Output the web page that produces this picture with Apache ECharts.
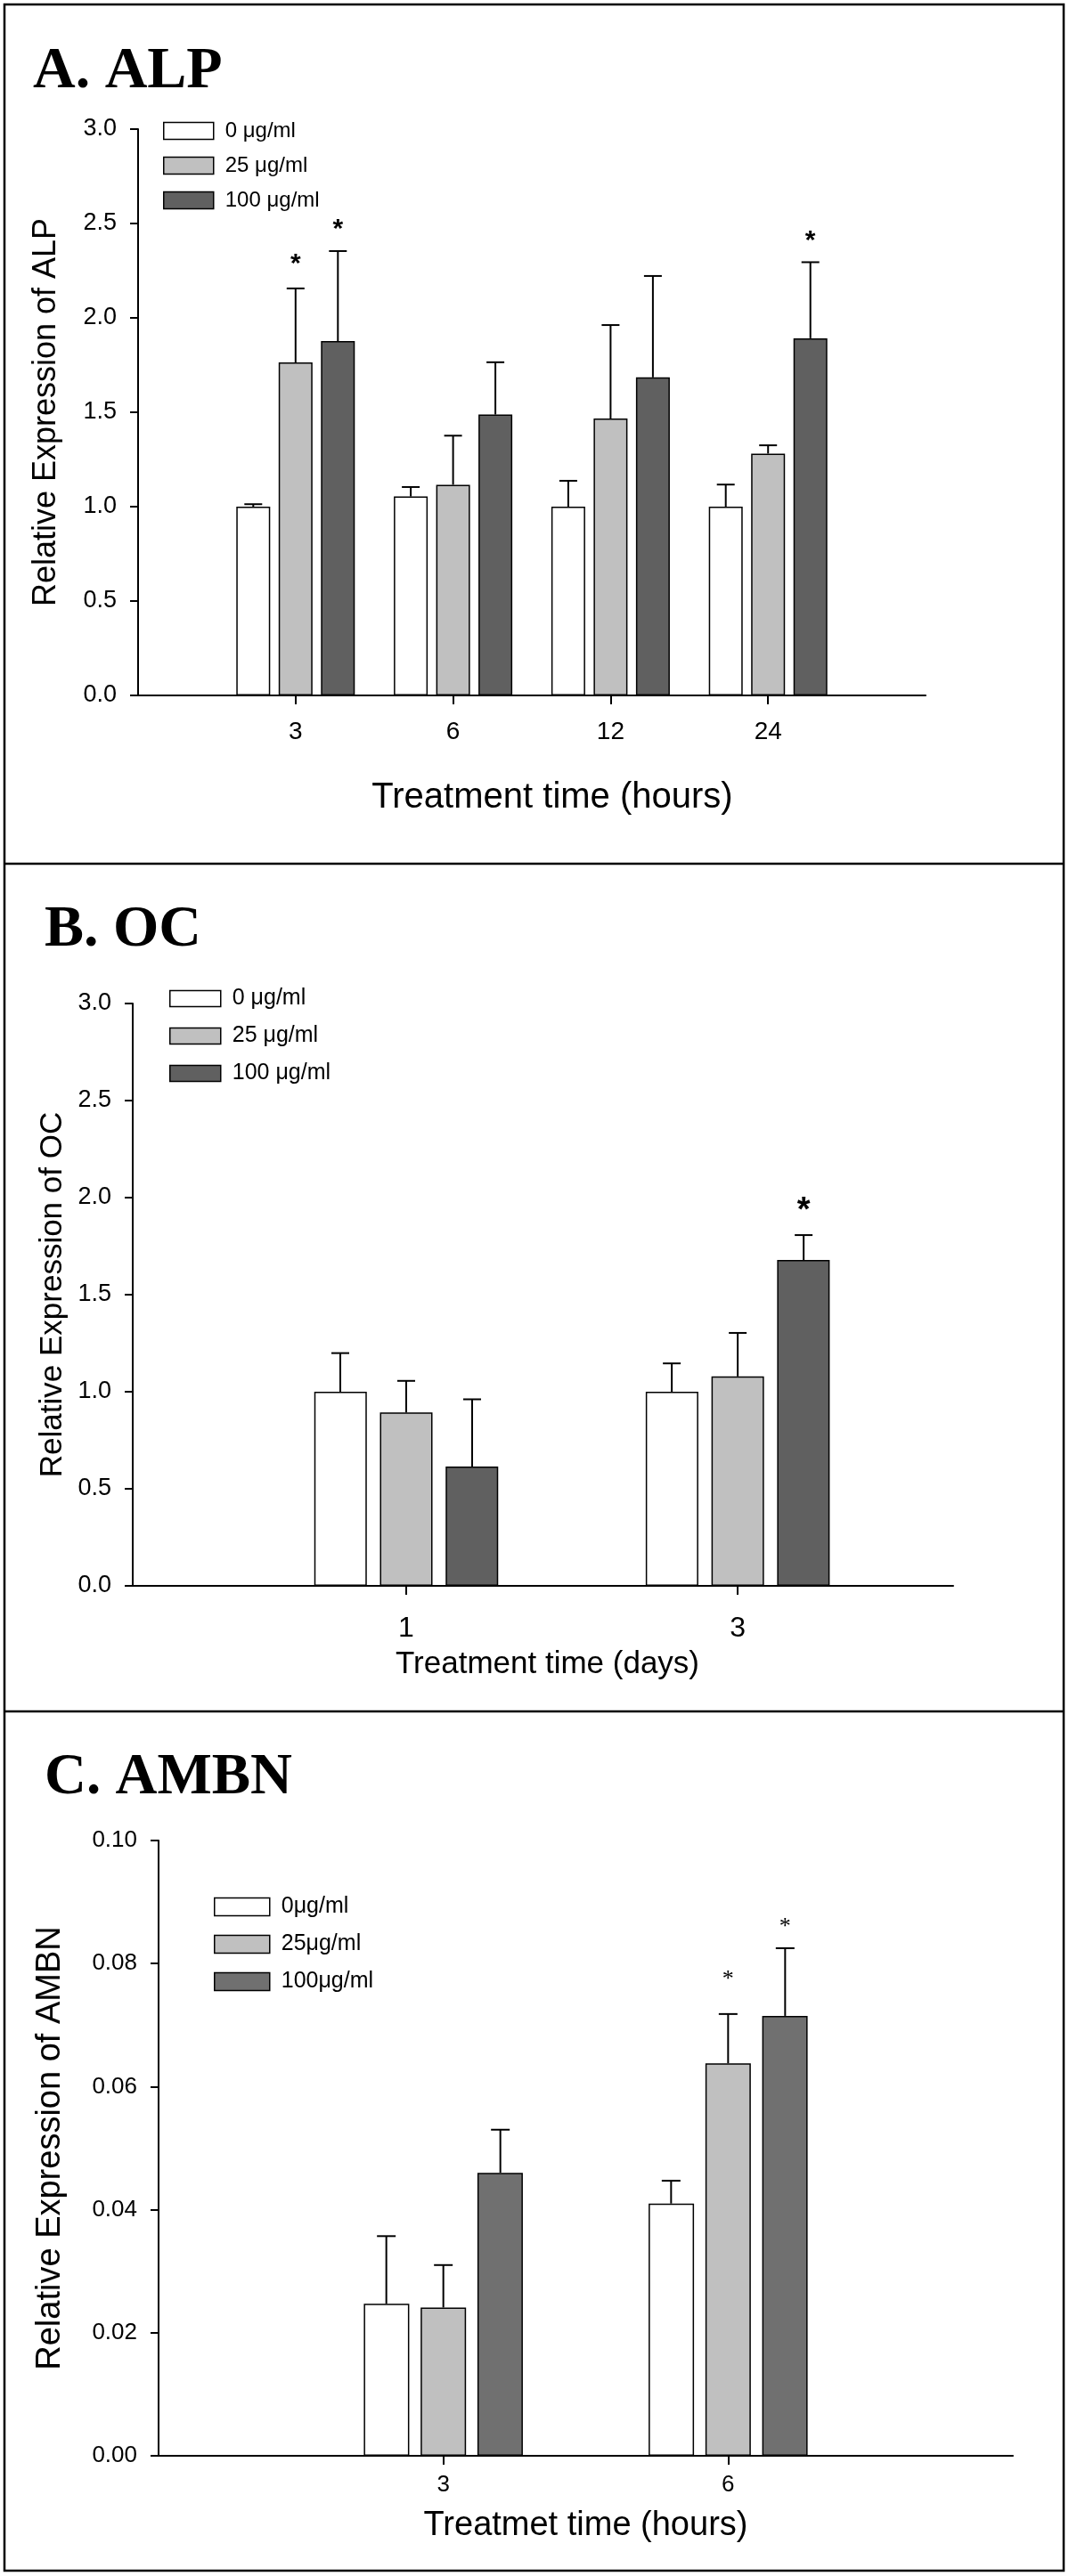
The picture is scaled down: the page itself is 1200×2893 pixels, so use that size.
<!DOCTYPE html>
<html>
<head>
<meta charset="utf-8">
<script src="https://cdn.jsdelivr.net/npm/echarts@6/dist/echarts.min.js"></script>
<style>
html,body{margin:0;padding:0;background:#fff;}
#chart{width:1200px;height:2893px;}
</style>
</head>
<body>
<div id="chart"></div>
<script>
// ---------- DATA ----------
// Panel A: ALP
const catsA = ['3', '6', '12', '24'];
const namesA = ['0 μg/ml', '25 μg/ml', '100 μg/ml'];
const alp0 = [1.0, 1.054, 1.0, 1.0];
const alp0Err = [0.013, 0.05, 0.137, 0.117];
const alp25 = [1.764, 1.116, 1.467, 1.281];
const alp25Err = [0.392, 0.26, 0.495, 0.044];
const alp100 = [1.877, 1.488, 1.685, 1.892];
const alp100Err = [0.477, 0.277, 0.537, 0.403];
const alpStar25 = [2.316, null, null, null];
const alpStar100 = [2.50, null, null, 2.44];
const ticksA = [0, 0.5, 1.0, 1.5, 2.0, 2.5, 3.0];

// Panel B: OC
const catsB = ['1', '3'];
const namesB = ['0 μg/ml', '25 μg/ml', '100 μg/ml'];
const oc0 = [1.0, 1.0];
const oc0Err = [0.199, 0.146];
const oc25 = [0.893, 1.079];
const oc25Err = [0.163, 0.224];
const oc100 = [0.615, 1.679];
const oc100Err = [0.346, 0.128];
const ocStar100 = [null, 1.968];
const ticksB = [0, 0.5, 1.0, 1.5, 2.0, 2.5, 3.0];

// Panel C: AMBN
const catsC = ['3', '6'];
const namesC = ['0μg/ml', '25μg/ml', '100μg/ml'];
const ambn0 = [0.0247, 0.0410];
const ambn0Err = [0.0110, 0.0037];
const ambn25 = [0.0241, 0.0638];
const ambn25Err = [0.0069, 0.0080];
const ambn100 = [0.0460, 0.0715];
const ambn100Err = [0.0070, 0.0110];
const ambnStar25 = [null, 0.0781];
const ambnStar100 = [null, 0.0866];
const ticksC = [0, 0.02, 0.04, 0.06, 0.08, 0.10];

// ---------- STYLE / BUILD ----------
const SANS = '"Liberation Sans", Arial, sans-serif';
const SERIF = '"Liberation Serif", "Times New Roman", serif';
const WHITE = '#ffffff', GRAY = '#c0c0c0', DARK = '#606060', DARKC = '#707070';

// x positions of categories on the value axes
const posA = catsA.map((c, i) => i + 1);
const posB = catsB.map(c => Number(c));
const posC = catsC.map((c, i) => i + 1);

function barSeries(name, idx, pos, vals, color, bw) {
  return {
    type: 'bar', name: name, xAxisIndex: idx, yAxisIndex: idx,
    barWidth: bw, barGap: '25%',
    itemStyle: { color: color, borderColor: '#000', borderWidth: 1.5 },
    data: pos.map((p, i) => [p, vals[i]]),
    silent: true, z: 2
  };
}
function errSeries(idx, pos, vals, errs, offset, capHalf) {
  return {
    type: 'custom', xAxisIndex: idx, yAxisIndex: idx, silent: true, z: 5,
    data: pos.map((p, i) => [p, vals[i], errs[i]]),
    renderItem: function (params, api) {
      const b = api.coord([api.value(0), api.value(1)]);
      const t = api.coord([api.value(0), api.value(1) + api.value(2)]);
      const x = b[0] + offset;
      return {
        type: 'group', children: [
          { type: 'line', shape: { x1: x, y1: b[1], x2: x, y2: t[1] }, style: { stroke: '#000', lineWidth: 2 } },
          { type: 'line', shape: { x1: x - capHalf, y1: t[1], x2: x + capHalf, y2: t[1] }, style: { stroke: '#000', lineWidth: 2 } }
        ]
      };
    }
  };
}
function starSeries(idx, pos, stars, offset, font, dy) {
  const d = [];
  pos.forEach((p, i) => { if (stars[i] != null) d.push([p, stars[i]]); });
  return {
    type: 'custom', xAxisIndex: idx, yAxisIndex: idx, silent: true, z: 6,
    data: d,
    renderItem: function (params, api) {
      const c = api.coord([api.value(0), api.value(1)]);
      return {
        type: 'text', x: c[0] + offset, y: c[1] + dy,
        style: { text: '*', font: font, fill: '#000', textAlign: 'center', textVerticalAlign: 'middle' }
      };
    }
  };
}

function yAxisCfg(idx, min, max, interval, dec, name, fs, nameFs, nameGap) {
  return {
    type: 'value', gridIndex: idx, min: min, max: max, interval: interval,
    name: name, nameLocation: 'middle', nameGap: nameGap,
    nameTextStyle: { fontFamily: SANS, fontSize: nameFs, color: '#000' },
    axisLine: { show: true, onZero: false, lineStyle: { color: '#000', width: 2 } },
    axisTick: { show: true, inside: false, length: 9, lineStyle: { color: '#000', width: 2 } },
    axisLabel: { fontFamily: SANS, fontSize: fs, color: '#000', margin: 24, formatter: v => v.toFixed(dec) },
    splitLine: { show: false }
  };
}
function xAxisCfg(idx, min, max, pos, cats, name, fs, margin, nameFs, nameGap, padLeft) {
  return {
    type: 'value', gridIndex: idx, min: min, max: max,
    name: name, nameLocation: 'middle', nameGap: nameGap,
    nameTextStyle: { fontFamily: SANS, fontSize: nameFs, color: '#000', padding: [0, 0, 0, padLeft] },
    axisLine: { show: true, onZero: false, lineStyle: { color: '#000', width: 2 } },
    axisTick: { show: true, inside: false, length: 10, customValues: pos, lineStyle: { color: '#000', width: 2 } },
    axisLabel: {
      fontFamily: SANS, fontSize: fs, color: '#000', margin: margin, customValues: pos,
      formatter: v => { const i = pos.indexOf(v); return i >= 0 ? cats[i] : ''; }
    },
    splitLine: { show: false }
  };
}
function legendCfg(names, left, top, w, h, gap, fs) {
  return {
    data: names, left: left, top: top, orient: 'vertical', icon: 'rect',
    itemWidth: w, itemHeight: h, itemGap: gap, padding: 0, selectedMode: false,
    itemStyle: { borderColor: '#000', borderWidth: 1.5 },
    textStyle: { fontFamily: SANS, fontSize: fs, color: '#000', lineHeight: h, padding: [0, 0, 0, 8] }
  };
}

const option = {
  backgroundColor: '#fff',
  animation: false,
  title: [
    { text: 'A. ALP', left: 37, top: 48, padding: 0, textStyle: { fontFamily: SERIF, fontWeight: 'bold', fontSize: 66, color: '#000' } },
    { text: 'B. OC', left: 50, top: 1012, padding: 0, textStyle: { fontFamily: SERIF, fontWeight: 'bold', fontSize: 66, color: '#000' } },
    { text: 'C. AMBN', left: 50, top: 1965, padding: 0, textStyle: { fontFamily: SERIF, fontWeight: 'bold', fontSize: 65, color: '#000' } }
  ],
  grid: [
    { left: 155, top: 145, width: 884, height: 636 },
    { left: 149, top: 1127, width: 921, height: 654 },
    { left: 178, top: 2067, width: 959, height: 691 }
  ],
  legend: [
    legendCfg(namesA, 183, 135, 56, 19, 15, 24),
    legendCfg(namesB, 190, 1109, 57, 18, 17, 25),
    legendCfg(namesC, 240, 2129, 62, 20, 17, 25)
  ],
  xAxis: [
    xAxisCfg(0, 0, 5, posA, catsA, 'Treatment time (hours)', 28, 27, 40, 95, 46),
    xAxisCfg(1, -0.65, 4.3, posB, catsB, 'Treatment time (days)', 32, 32, 35, 71, 10),
    xAxisCfg(2, 0, 3, posC, catsC, 'Treatmet time (hours)', 26, 20, 38, 60, 0)
  ],
  yAxis: [
    yAxisCfg(0, ticksA[0], ticksA[ticksA.length - 1], ticksA[1] - ticksA[0], 1, 'Relative Expression of ALP', 27, 36, 85),
    yAxisCfg(1, ticksB[0], ticksB[ticksB.length - 1], ticksB[1] - ticksB[0], 1, 'Relative Expression of OC', 27, 35, 64),
    yAxisCfg(2, ticksC[0], ticksC[ticksC.length - 1], 0.02, 2, 'Relative Expression of AMBN', 26, 38, 102)
  ],
  series: [
    barSeries(namesA[0], 0, posA, alp0, WHITE, 38),
    barSeries(namesA[1], 0, posA, alp25, GRAY, 38),
    barSeries(namesA[2], 0, posA, alp100, DARK, 38),
    errSeries(0, posA, alp0, alp0Err, -47.5, 10),
    errSeries(0, posA, alp25, alp25Err, 0, 10),
    errSeries(0, posA, alp100, alp100Err, 47.5, 10),
    starSeries(0, posA, alpStar25, 0, 'bold 30px ' + SANS, 7),
    starSeries(0, posA, alpStar100, 47.5, 'bold 30px ' + SANS, 7),

    barSeries(namesB[0], 1, posB, oc0, WHITE, 59),
    barSeries(namesB[1], 1, posB, oc25, GRAY, 59),
    barSeries(namesB[2], 1, posB, oc100, DARK, 59),
    errSeries(1, posB, oc0, oc0Err, -74, 10),
    errSeries(1, posB, oc25, oc25Err, 0, 10),
    errSeries(1, posB, oc100, oc100Err, 74, 10),
    starSeries(1, posB, ocStar100, 74, 'bold 38px ' + SANS, 9),

    barSeries(namesC[0], 2, posC, ambn0, WHITE, 51),
    barSeries(namesC[1], 2, posC, ambn25, GRAY, 51),
    barSeries(namesC[2], 2, posC, ambn100, DARKC, 51),
    errSeries(2, posC, ambn0, ambn0Err, -64, 10.5),
    errSeries(2, posC, ambn25, ambn25Err, 0, 10.5),
    errSeries(2, posC, ambn100, ambn100Err, 64, 10.5),
    starSeries(2, posC, ambnStar25, 0, '26px ' + SERIF, 5),
    starSeries(2, posC, ambnStar100, 64, '26px ' + SERIF, 5)
  ],
  graphic: [
    { type: 'rect', silent: true, shape: { x: 5, y: 5, width: 1189, height: 2882 }, style: { fill: 'none', stroke: '#000', lineWidth: 2.5 } },
    { type: 'line', silent: true, shape: { x1: 5, y1: 970, x2: 1194, y2: 970 }, style: { stroke: '#000', lineWidth: 2.5 } },
    { type: 'line', silent: true, shape: { x1: 5, y1: 1922, x2: 1194, y2: 1922 }, style: { stroke: '#000', lineWidth: 2.5 } }
  ]
};

const chart = echarts.init(document.getElementById('chart'), null, { renderer: 'canvas' });
chart.setOption(option);
</script>
</body>
</html>
